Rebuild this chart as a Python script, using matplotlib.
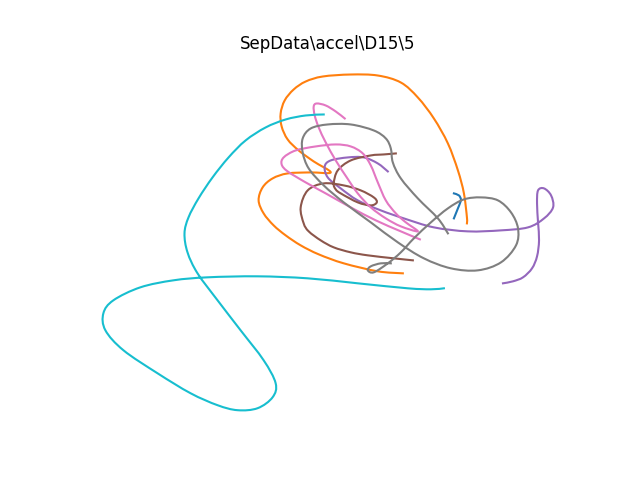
import matplotlib
matplotlib.use("Agg")
import matplotlib.pyplot as plt
import numpy as np
from matplotlib.path import Path
from matplotlib.patches import PathPatch

# traced traces (x, y) per segment, y grows downward
blue_x = [453, 458, 460, 459, 457, 453]
blue_y = [193, 195, 199, 203, 208, 218]

orange_x = [466, 466, 463, 457, 447, 433, 417, 400, 377, 350, 322, 305, 293, 284, 280, 281,
            287, 298, 313, 330, 310, 287, 272, 262, 258, 263, 273, 285, 300, 318, 343, 377,
            402]
orange_y = [223, 217, 193, 170, 143, 118, 97, 82, 75, 74, 76, 81, 89, 100, 113, 126,
            139, 150, 161, 172, 172, 173, 178, 187, 200, 213, 225, 235, 245, 254, 263, 271,
            273]

purple_x = [387, 377, 363, 347, 330, 324, 327, 340, 357, 380, 403, 433, 467, 500, 527, 543,
            552, 550, 543, 537, 536, 537, 538, 536, 531, 522, 512, 502]
purple_y = [171, 163, 157, 157, 160, 166, 177, 188, 200, 210, 218, 227, 231, 230, 227, 218,
            207, 195, 188, 190, 203, 222, 240, 256, 268, 277, 281, 283]

brown_x = [395, 383, 370, 350, 337, 333, 335, 340, 357, 370, 376, 373, 360, 343, 323, 307,
           300, 303, 308, 320, 333, 350, 367, 393, 412]
brown_y = [153, 154, 155, 160, 170, 183, 189, 193, 202, 205, 202, 197, 190, 185, 183, 190,
           207, 223, 231, 240, 247, 252, 255, 258, 260]

pink_x = [344, 335, 325, 316, 313, 314, 318, 325, 335, 346, 357, 370, 385, 400, 417, 405,
          395, 385, 377, 370, 362, 350, 335, 315, 295, 283, 281, 287, 305, 325, 350, 375,
          400, 419]
pink_y = [118, 111, 105, 103, 106, 115, 127, 142, 160, 177, 193, 207, 218, 226, 231, 222,
          213, 200, 182, 165, 153, 146, 144, 146, 150, 157, 164, 171, 182, 193, 207, 220,
          231, 239]

gray_x = [447, 437, 417, 400, 392, 390, 385, 373, 350, 327, 310, 302, 302, 308, 323, 343,
          370, 397, 423, 450, 477, 500, 515, 517, 510, 497, 480, 463, 447, 430, 413, 400,
          387, 373, 367, 370, 380, 390]
gray_y = [233, 218, 198, 178, 162, 148, 138, 130, 124, 124, 128, 138, 152, 168, 185, 202,
          222, 242, 258, 268, 270, 262, 245, 228, 212, 200, 197, 199, 208, 222, 238, 252,
          263, 272, 270, 266, 263, 263]

cyan_x = [323, 305, 285, 265, 245, 228, 212, 198, 188, 184, 187, 197, 217, 240, 263, 275,
          272, 257, 237, 217, 190, 157, 123, 105, 103, 113, 140, 173, 207, 257, 307, 357,
          407, 430, 443]
cyan_y = [114, 115, 119, 127, 140, 157, 177, 198, 217, 233, 252, 273, 300, 330, 360, 383,
          397, 408, 410, 405, 393, 373, 350, 330, 313, 300, 287, 280, 277, 276, 278, 283,
          288, 289, 288]

traces = [
    (blue_x, blue_y, "C0"),
    (orange_x, orange_y, "C1"),
    (purple_x, purple_y, "C4"),
    (brown_x, brown_y, "C5"),
    (pink_x, pink_y, "C6"),
    (gray_x, gray_y, "C7"),
    (cyan_x, cyan_y, "C9"),
]


def smooth_path(xs, ys):
    # cubic bezier through every traced point (catmull-rom handles)
    p = np.column_stack([xs, ys]).astype(float)
    n = len(p)
    verts = [p[0]]
    codes = [Path.MOVETO]
    for i in range(n - 1):
        p0 = p[max(i - 1, 0)]
        p1 = p[i]
        p2 = p[i + 1]
        p3 = p[min(i + 2, n - 1)]
        verts += [p1 + (p2 - p0) / 6, p2 - (p3 - p1) / 6, p2]
        codes += [Path.CURVE4] * 3
    return Path(verts, codes)


fig, ax = plt.subplots(figsize=(6.4, 4.8), dpi=100)
for xs, ys, col in traces:
    # invisible line keeps autoscaling on the data
    ax.plot(xs, ys, color=col, lw=0)
    ax.add_patch(PathPatch(smooth_path(xs, ys), facecolor="none", edgecolor=col, lw=1.5,
                           capstyle="projecting", joinstyle="round"))
ax.invert_yaxis()
ax.axis("off")
ax.set_title(r"SepData\accel\D15\5")
fig.savefig("out.png")
